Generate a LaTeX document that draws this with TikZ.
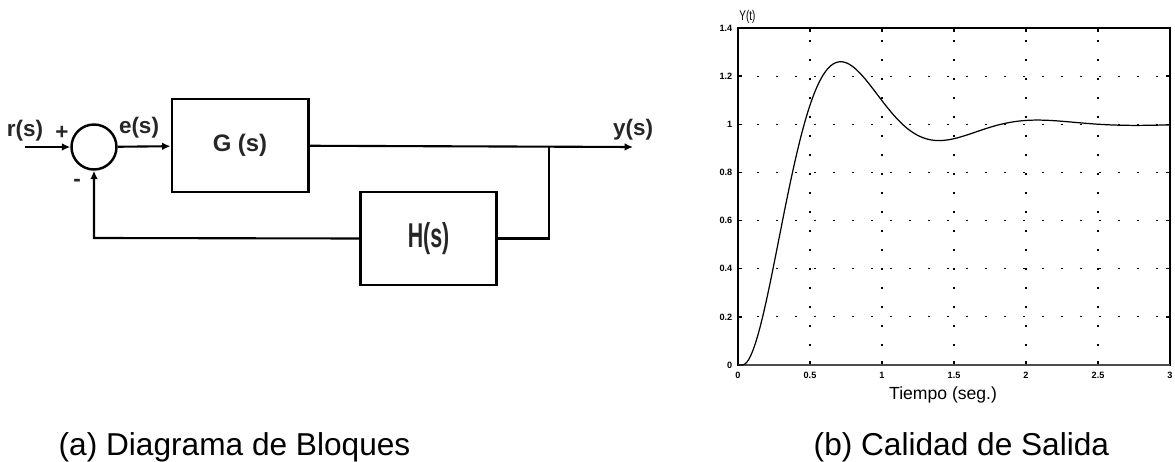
\documentclass[tikz,border=0pt]{standalone}
\usepackage{fontspec}
\setmainfont{Liberation Sans}
\usetikzlibrary{arrows.meta,positioning,calc}

\begin{document}
\begin{tikzpicture}[
    x=0.1mm, y=-0.1mm,
    block/.style={draw, line width=0.85pt, minimum width=13.6mm, minimum height=9.3mm, inner sep=0pt},
    sumnode/.style={draw, circle, line width=0.7pt, minimum size=4.5mm, inner sep=0pt},
    sig/.style={font=\fontsize{6.4}{7}\selectfont\bfseries, text=black!85, inner sep=0pt},
    wire/.style={line width=0.6pt},
    arrow/.style={line width=0.6pt, -{Latex[length=2.4pt, width=2.2pt]}},
    gridline/.style={line width=0.35pt, dash pattern=on 0.6pt off 4.8pt},
    axis/.style={line width=0.4pt},
    ticklbl/.style={font=\fontsize{2.6}{3}\selectfont\bfseries, inner sep=0pt},
    curve/.style={line width=0.35pt},
    caption/.style={font=\fontsize{9}{10}\selectfont, inner sep=0pt}
]
\useasboundingbox (0,0) rectangle (1175,462);

% (a) block diagram
\coordinate (in) at (25,147);
\node[sumnode] (sum) at (94,147) {};
\node[block] (G) at (240,145.5) {};
\node[font=\fontsize{6.8}{8}\selectfont\bfseries, text=black!85] (Gl) at (G.center) {G (s)};
\node[block] (H) at (428.5,238.5) {};
\node[text=black!85] (Hl) at (H.center) {\fontsize{9.8}{11}\selectfont\bfseries\scalebox{0.62}[1]{H(s)}};
\coordinate (out) at (633,147);
\coordinate (branch) at (549,147);
\coordinate (fb) at (94,238);

\node[sig] (rl) at (25,131) {r(s)};
\node[sig] (el) at (139,128) {e(s)};
\node[sig] (yl) at (633,130) {y(s)};
\node[sig] (plus) at (62,133) {+};
\node[sig] (minus) at (77,183) {-};

\draw[arrow] (in) -- (sum);
\draw[arrow] (sum) -- (G);
\draw[arrow] (G) -- (out);
\draw[wire] (branch) |- (H.east);
\draw[arrow] (H.west) -- (fb) -- (sum);

% (b) step response
\begin{scope}[shift={(738,365)}, x=14.4mm, y=24.07mm]
\foreach \t in {0.5,1,1.5,2,2.5}
    \draw[gridline] (\t,0) -- (\t,1.4);
\foreach \v in {0.2,0.4,0.6,0.8,1,1.2}
    \draw[gridline] (0,\v) -- (3,\v);
\foreach \t in {0.5,1,1.5,2,2.5} {
    \draw[axis] (\t,0) -- ++(0,0.017);
    \draw[axis] (\t,1.4) -- ++(0,-0.017);
}
\foreach \v in {0.2,0.4,0.6,0.8,1,1.2} {
    \draw[axis] (0,\v) -- ++(0.028,0);
    \draw[axis] (3,\v) -- ++(-0.028,0);
}
\draw[axis] (0,0) rectangle (3,1.4);
\draw[line width=0.6pt] (0,0) -- (0,1.4);
\draw[line width=0.6pt, black!70] (0,0) -- (3,0);

\foreach \t/\l [count=\i] in {0/0,0.5/0.5,1/1,1.5/1.5,2/2,2.5/2.5,3/3}
    \node[ticklbl] (xt\i) at (\t,-0.042) {\l};
\foreach \v/\l [count=\i] in {0/0,0.2/0.2,0.4/0.4,0.6/0.6,0.8/0.8,1/1,1.2/1.2,1.4/1.4}
    \node[ticklbl, anchor=east] (yt\i) at (-0.035,\v) {\l};

\node[inner sep=0pt] (ylab) at (0.065,1.447) {\fontsize{4}{5}\selectfont\scalebox{0.7}[1]{Y(t)}};
\node[font=\fontsize{5}{6}\selectfont, inner sep=0pt, anchor=base] (xlab) at (1.424,-0.145) {Tiempo (seg.)};

\draw[curve] (0,0) -- (0.03,0) -- plot[domain=0.03:3, samples=160, smooth]
    (\x, {1 - exp(-1.972*(\x-0.03))*(cos(deg(4.6*(\x-0.03))) + 0.4288*sin(deg(4.6*(\x-0.03))))});
\end{scope}

% captions
\node[caption, anchor=base west] (capa) at (58,455) {(a) Diagrama de Bloques};
\node[caption, anchor=base west] (capb) at (813,455) {(b) Calidad de Salida};
\end{tikzpicture}
\end{document}
